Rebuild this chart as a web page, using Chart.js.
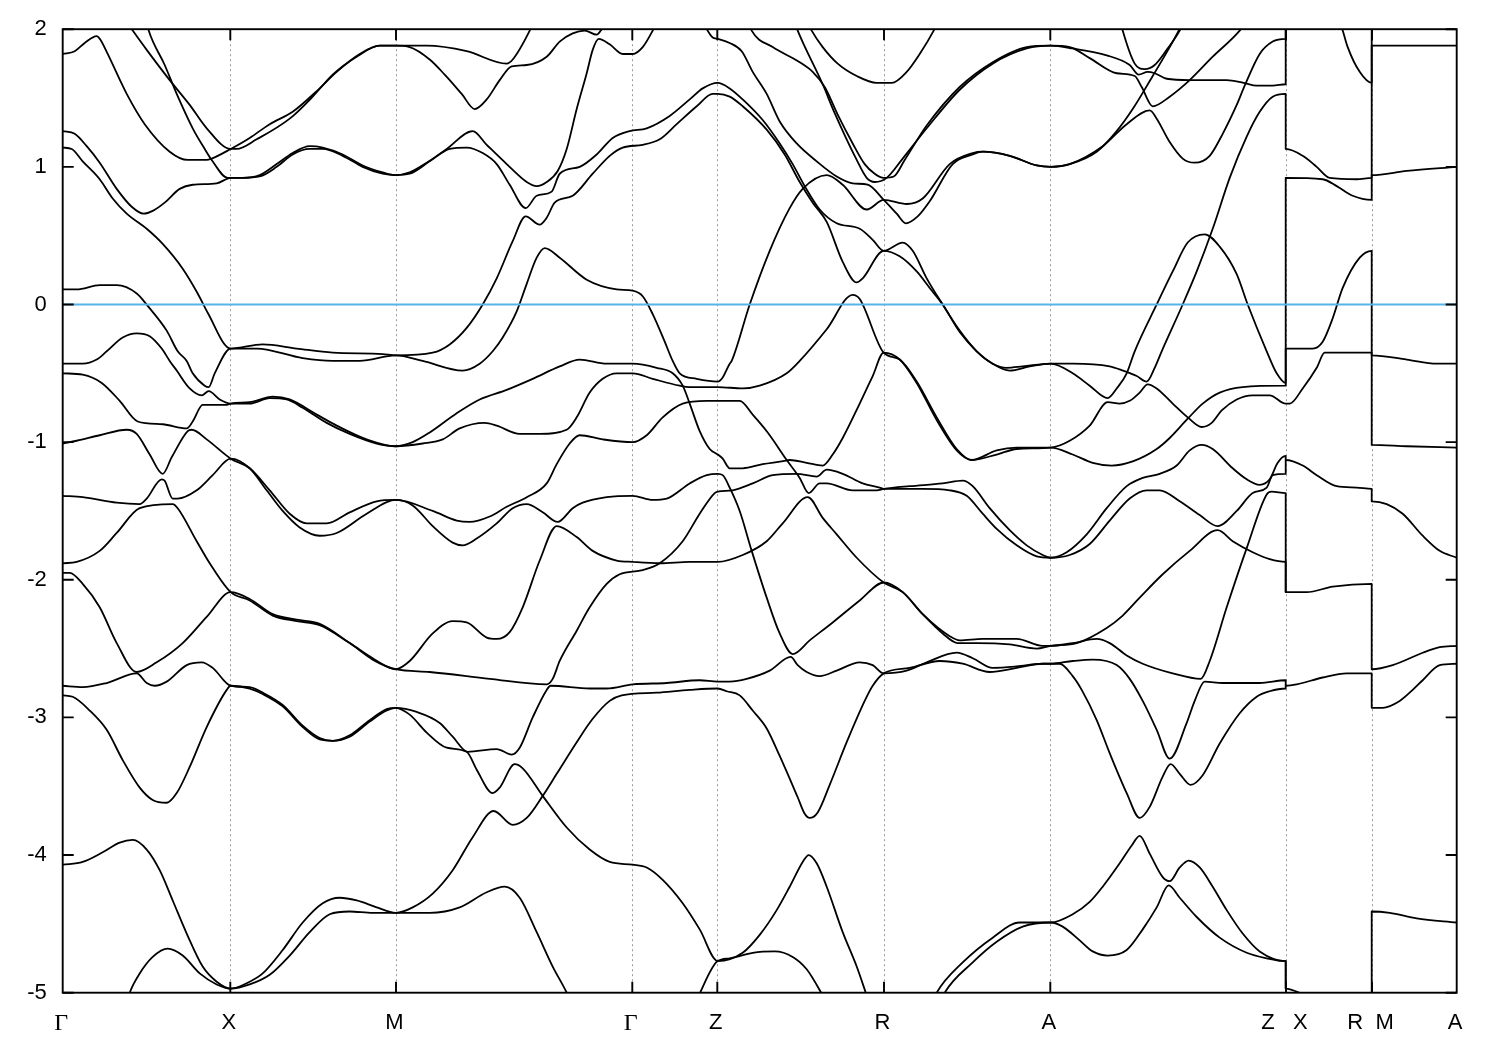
<!DOCTYPE html>
<html><head><meta charset="utf-8">
<style>html,body{margin:0;padding:0;background:#fff}canvas{display:block}</style>
<script src="https://cdn.jsdelivr.net/npm/chart.js@4"></script>
</head><body><canvas id="c" width="1500" height="1050"></canvas>
<script>
const kPoints=[0,167.6,333.3,569.6,654.6,821.3,987.6,1223.3,1309.3,1394];
const kLabels=['Γ','X','M','Γ','Z','R','A','Z   X','R  M','A'];
const energyTicks=[-5,-4,-3,-2,-1,0,1,2];
const zeroLevel=[[0,0],[1394,0]];
const band01=[[0,1.82],[12,1.84],[22,1.90],[34,1.95],[38,1.92],[45,1.82],[64,1.53],[82,1.31],[107,1.11],[125,1.05],[144,1.05],[149,1.06],[168,1.13],[187,1.21],[207,1.31],[230,1.40],[254,1.55],[274,1.69],[297,1.82],[317,1.88],[333,1.88],[364,1.88],[404,1.84],[444,1.75],[450,1.78],[467,1.99],[470,2.04]];
const band02=[[64,2.05],[70,1.99],[84,1.85],[107,1.63],[127,1.45],[144,1.28],[168,1.13],[174,1.13],[194,1.20],[227,1.35],[250,1.51],[270,1.67],[294,1.80],[317,1.88],[333,1.88],[347,1.87],[367,1.78],[382,1.67],[399,1.53],[412,1.42],[424,1.49],[437,1.63],[449,1.73],[464,1.74],[484,1.80],[497,1.91],[510,1.97],[522,1.99],[534,1.96],[539,2.0],[544,2.06]];
const band03=[[84,2.05],[86,1.99],[102,1.74],[114,1.53],[130,1.28],[142,1.13],[149,1.05],[165,.92],[168,.92],[180,.92],[197,.93],[214,1.00],[230,1.09],[247,1.13],[260,1.13],[280,1.08],[300,1.00],[320,.95],[333,.94],[347,.96],[364,1.03],[384,1.13],[410,1.26],[424,1.16],[444,1.02],[464,.89],[474,.86],[484,.89],[495,.97],[504,1.13],[514,1.42],[524,1.68],[530,1.85],[536,1.93],[547,1.89],[560,1.82],[570,1.82],[580,1.87],[590,1.99],[594,2.05]];
const band04=[[0,1.26],[12,1.24],[24,1.15],[37,1.03],[54,.84],[69,.71],[81,.66],[90,.68],[102,.74],[117,.84],[130,.87],[154,.88],[168,.92],[180,.92],[197,.94],[214,1.02],[230,1.10],[247,1.15],[260,1.14],[280,1.09],[300,1.01],[320,.96],[333,.94],[347,.95],[367,1.04],[387,1.13],[404,1.14],[420,1.10],[434,1.02],[447,.87],[463,.70],[474,.79],[489,.82],[497,.95],[517,1.00],[534,1.09],[550,1.21],[567,1.26],[584,1.28],[607,1.37],[627,1.49],[640,1.57],[655,1.61],[667,1.57],[680,1.49],[700,1.34],[717,1.17],[730,1.02],[742,.86],[757,.69],[774,.59],[797,.55],[810,.47],[821,.39],[840,.45],[850,.39],[864,.19],[880,0],[897,-.19],[914,-.34],[930,-.43],[944,-.46],[960,-.45],[988,-.43],[1010,-.43],[1047,-.45],[1060,-.48],[1074,-.52],[1084,-.56],[1092,-.46],[1099,-.34],[1120,0],[1134,.24],[1150,.55],[1167,.92],[1184,1.22],[1197,1.40],[1210,1.51],[1223,1.53],[1223,1.13],[1240,1.08],[1254,1.00],[1267,.92],[1294,.91],[1309,.92],[1309,1.88],[1394,1.88]];
const band05=[[0,1.14],[9,1.13],[20,1.04],[37,.91],[50,.77],[64,.66],[84,.55],[100,.44],[120,.26],[135,.08],[145,-.06],[168,-.32],[200,-.29],[234,-.32],[270,-.35],[320,-.36],[333,-.37],[370,-.35],[387,-.29],[404,-.17],[420,0],[434,.19],[450,.46],[463,.64],[477,.58],[484,.63],[492,.74],[510,.79],[530,.95],[547,1.08],[560,1.14],[580,1.16],[597,1.20],[614,1.31],[634,1.44],[650,1.53],[655,1.53],[667,1.51],[680,1.44],[704,1.27],[722,1.09],[737,.89],[750,.74],[764,.60],[780,.31],[794,.16],[800,.19],[821,.39],[837,.35],[854,.24],[867,.12],[880,0],[897,-.2],[914,-.34],[930,-.43],[947,-.48],[967,-.45],[988,-.43],[1010,-.50],[1027,-.59],[1045,-.68],[1054,-.61],[1064,-.50],[1072,-.34],[1094,0],[1110,.24],[1125,.45],[1142,.51],[1157,.42],[1174,.22],[1185,0],[1204,-.34],[1214,-.50],[1223,-.57],[1223,.92],[1260,.91],[1274,.86],[1290,.79],[1309,.76],[1309,.94],[1344,.97],[1394,1.00]];
const band06=[[0,.11],[14,.11],[37,.14],[54,.14],[74,.08],[85,-.01],[104,-.19],[115,-.34],[124,-.41],[130,-.50],[142,-.59],[146,-.60],[152,-.50],[168,-.32],[194,-.32],[240,-.39],[270,-.41],[297,-.41],[333,-.37],[360,-.41],[400,-.48],[417,-.43],[430,-.34],[440,-.24],[454,-.05],[464,.15],[474,.34],[482,.41],[497,.34],[524,.18],[554,.11],[570,.10],[580,.06],[590,-.07],[602,-.27],[610,-.41],[617,-.50],[634,-.54],[655,-.56],[660,-.53],[667,-.43],[669,-.41],[687,0],[707,.39],[727,.70],[740,.84],[764,.94],[780,.87],[804,.69],[821,.76],[844,.73],[860,.77],[887,1.02],[910,1.10],[920,1.11],[947,1.08],[974,1.01],[988,1.00],[1007,1.02],[1034,1.11],[1054,1.26],[1070,1.42],[1090,1.66],[1107,1.87],[1116,1.99],[1120,2.05]];
const band07=[[0,-.43],[20,-.43],[34,-.40],[44,-.34],[60,-.24],[74,-.21],[87,-.23],[99,-.32],[107,-.41],[114,-.48],[127,-.61],[139,-.66],[146,-.63],[157,-.69],[168,-.72],[187,-.72],[207,-.68],[224,-.69],[240,-.75],[264,-.86],[287,-.94],[314,-1.01],[333,-1.03],[350,-1.00],[367,-.93],[394,-.79],[417,-.69],[444,-.62],[470,-.54],[497,-.45],[517,-.40],[544,-.43],[570,-.43],[594,-.46],[610,-.50],[620,-.59],[627,-.72],[637,-.92],[647,-1.05],[655,-1.09],[660,-1.12],[667,-1.19],[680,-1.19],[700,-1.16],[719,-1.14],[727,-1.13],[744,-1.15],[760,-1.17],[770,-1.09],[780,-.97],[797,-.72],[810,-.52],[821,-.35],[837,-.40],[854,-.57],[874,-.84],[894,-1.06],[909,-1.13],[934,-1.09],[954,-1.05],[988,-1.04],[1007,-.99],[1027,-.88],[1045,-.71],[1057,-.72],[1067,-.70],[1077,-.64],[1085,-.58],[1094,-.61],[1110,-.72],[1125,-.82],[1139,-.89],[1149,-.86],[1159,-.77],[1174,-.69],[1190,-.66],[1207,-.66],[1223,-.72],[1227,-.72],[1240,-.61],[1254,-.46],[1262,-.35],[1309,-.35],[1309,-1.02],[1344,-1.03],[1394,-1.04]];
const band08=[[0,-.50],[20,-.51],[39,-.57],[57,-.70],[75,-.85],[100,-.87],[124,-.90],[130,-.85],[140,-.73],[164,-.73],[168,-.72],[187,-.71],[210,-.67],[227,-.69],[254,-.80],[274,-.88],[304,-.98],[333,-1.03],[360,-1.01],[380,-.98],[397,-.90],[422,-.86],[434,-.88],[457,-.94],[477,-.94],[504,-.91],[514,-.82],[527,-.64],[540,-.54],[554,-.50],[570,-.50],[590,-.54],[617,-.59],[627,-.60],[655,-.60],[680,-.61],[697,-.59],[724,-.50],[737,-.41],[764,-.18],[790,.07],[797,.04],[821,-.35],[837,-.40],[854,-.56],[874,-.82],[894,-1.05],[909,-1.13],[934,-1.06],[954,-1.04],[988,-1.04],[1010,-1.09],[1030,-1.15],[1049,-1.17],[1070,-1.14],[1094,-1.05],[1107,-.97],[1125,-.83],[1140,-.72],[1157,-.64],[1180,-.60],[1223,-.59],[1223,-.32],[1250,-.32],[1260,-.27],[1270,-.10],[1280,.12],[1297,.34],[1309,.39],[1309,-.37],[1344,-.40],[1374,-.43],[1394,-.43]];
const band09=[[0,-1.01],[14,-.99],[37,-.95],[64,-.91],[74,-.94],[87,-1.09],[100,-1.23],[109,-1.11],[125,-.92],[129,-.91],[144,-.98],[168,-1.12],[187,-1.19],[207,-1.35],[227,-1.52],[244,-1.59],[264,-1.59],[287,-1.51],[314,-1.43],[333,-1.42],[370,-1.50],[394,-1.57],[407,-1.58],[427,-1.54],[444,-1.47],[464,-1.40],[484,-1.30],[494,-1.16],[507,-1.01],[517,-.95],[540,-.98],[570,-1.00],[584,-.95],[600,-.82],[620,-.72],[644,-.70],[655,-.70],[677,-.70],[690,-.80],[705,-.93],[724,-1.13],[737,-1.26],[746,-1.37],[757,-1.30],[764,-1.30],[790,-1.35],[814,-1.35],[821,-1.34],[847,-1.32],[880,-1.30],[900,-1.28],[910,-1.32],[927,-1.48],[947,-1.64],[964,-1.75],[980,-1.82],[988,-1.84],[1004,-1.80],[1024,-1.67],[1044,-1.48],[1064,-1.32],[1080,-1.26],[1097,-1.23],[1114,-1.17],[1127,-1.06],[1139,-1.02],[1150,-1.05],[1170,-1.19],[1184,-1.27],[1197,-1.31],[1207,-1.27],[1215,-1.15],[1223,-1.10],[1223,-1.13],[1240,-1.17],[1254,-1.24],[1274,-1.32],[1294,-1.33],[1309,-1.34],[1309,-1.43],[1324,-1.45],[1340,-1.52],[1360,-1.68],[1377,-1.79],[1394,-1.84]];
const band10=[[0,-1.39],[20,-1.40],[54,-1.44],[77,-1.45],[84,-1.41],[99,-1.27],[102,-1.28],[110,-1.41],[115,-1.41],[134,-1.35],[150,-1.24],[168,-1.12],[187,-1.19],[204,-1.35],[220,-1.50],[237,-1.62],[257,-1.68],[274,-1.66],[304,-1.52],[333,-1.42],[350,-1.46],[370,-1.61],[390,-1.73],[400,-1.75],[414,-1.70],[434,-1.59],[450,-1.48],[464,-1.45],[480,-1.51],[495,-1.58],[510,-1.48],[520,-1.44],[544,-1.40],[570,-1.39],[590,-1.42],[604,-1.41],[627,-1.30],[644,-1.24],[655,-1.23],[660,-1.24],[667,-1.33],[677,-1.50],[689,-1.79],[704,-2.13],[717,-2.39],[730,-2.54],[747,-2.44],[770,-2.31],[797,-2.15],[821,-2.02],[840,-2.09],[860,-2.25],[880,-2.39],[895,-2.46],[914,-2.46],[947,-2.47],[974,-2.50],[988,-2.48],[1014,-2.46],[1044,-2.35],[1060,-2.26],[1077,-2.13],[1100,-1.96],[1127,-1.79],[1155,-1.64],[1170,-1.72],[1190,-1.80],[1207,-1.85],[1223,-1.87],[1223,-2.09]];
const band11=[[0,-1.88],[14,-1.87],[37,-1.79],[54,-1.66],[77,-1.48],[110,-1.45],[115,-1.48],[134,-1.72],[147,-1.88],[168,-2.09],[187,-2.15],[210,-2.26],[234,-2.30],[257,-2.33],[287,-2.46],[310,-2.57],[327,-2.64],[333,-2.65],[347,-2.59],[370,-2.39],[390,-2.30],[404,-2.31],[424,-2.42],[434,-2.43],[447,-2.38],[460,-2.20],[477,-1.86],[494,-1.61],[514,-1.69],[530,-1.79],[554,-1.86],[570,-1.87],[597,-1.88],[627,-1.87],[655,-1.87],[680,-1.82],[704,-1.72],[720,-1.59],[745,-1.40],[760,-1.55],[774,-1.67],[794,-1.84],[821,-2.02],[840,-2.09],[860,-2.25],[887,-2.41],[897,-2.44],[920,-2.43],[954,-2.43],[980,-2.48],[988,-2.48],[1010,-2.46],[1034,-2.43],[1047,-2.46],[1064,-2.55],[1080,-2.61],[1110,-2.68],[1138,-2.72],[1147,-2.59],[1164,-2.20],[1184,-1.77],[1204,-1.38],[1209,-1.36],[1223,-1.37],[1223,-2.09],[1244,-2.09],[1270,-2.05],[1309,-2.03],[1309,-2.65],[1330,-2.62],[1360,-2.53],[1377,-2.49],[1394,-2.48]];
const band12=[[0,-1.95],[7,-1.95],[20,-2.03],[37,-2.20],[54,-2.46],[74,-2.67],[94,-2.60],[120,-2.46],[144,-2.27],[168,-2.09],[187,-2.14],[210,-2.25],[234,-2.29],[257,-2.32],[287,-2.46],[310,-2.58],[333,-2.65],[367,-2.67],[427,-2.72],[484,-2.76],[490,-2.72],[497,-2.59],[514,-2.37],[527,-2.20],[544,-2.03],[557,-1.96],[580,-1.93],[597,-1.88],[620,-1.72],[637,-1.52],[652,-1.37],[655,-1.36],[670,-1.35],[690,-1.30],[710,-1.24],[734,-1.23],[754,-1.25],[764,-1.20],[780,-1.23],[800,-1.30],[817,-1.33],[821,-1.34],[860,-1.34],[887,-1.35],[904,-1.39],[920,-1.52],[934,-1.63],[954,-1.75],[974,-1.83],[988,-1.84],[1007,-1.82],[1027,-1.74],[1047,-1.57],[1067,-1.41],[1084,-1.35],[1097,-1.35],[1117,-1.43],[1137,-1.53],[1155,-1.61],[1174,-1.50],[1190,-1.37],[1204,-1.33],[1210,-1.24],[1223,-1.23],[1223,-1.13]];
const band13=[[0,-2.77],[20,-2.78],[44,-2.75],[74,-2.68],[84,-2.75],[92,-2.77],[104,-2.74],[124,-2.62],[139,-2.60],[150,-2.64],[168,-2.77],[187,-2.78],[200,-2.82],[220,-2.91],[240,-3.06],[257,-3.15],[270,-3.17],[287,-3.13],[307,-3.02],[324,-2.94],[333,-2.93],[354,-2.96],[377,-3.04],[390,-3.14],[405,-3.25],[434,-3.23],[449,-3.27],[457,-3.22],[470,-3.00],[484,-2.80],[488,-2.77],[527,-2.79],[544,-2.79],[570,-2.76],[604,-2.75],[637,-2.73],[655,-2.74],[667,-2.74],[684,-2.72],[707,-2.66],[728,-2.56],[735,-2.62],[744,-2.67],[757,-2.70],[774,-2.66],[797,-2.60],[810,-2.62],[821,-2.68],[844,-2.66],[864,-2.60],[894,-2.53],[910,-2.57],[930,-2.64],[954,-2.63],[980,-2.61],[988,-2.61],[1010,-2.59],[1030,-2.58],[1054,-2.62],[1067,-2.72],[1080,-2.88],[1094,-3.09],[1107,-3.30],[1124,-3.04],[1132,-2.88],[1142,-2.74],[1160,-2.75],[1197,-2.75],[1223,-2.73],[1223,-2.77],[1234,-2.76],[1260,-2.71],[1284,-2.68],[1309,-2.68],[1309,-2.93],[1320,-2.93],[1337,-2.88],[1350,-2.80],[1360,-2.73],[1377,-2.62],[1394,-2.61]];
const band14=[[0,-2.84],[10,-2.85],[27,-2.95],[44,-3.09],[60,-3.31],[77,-3.51],[90,-3.60],[104,-3.62],[114,-3.55],[127,-3.36],[144,-3.07],[164,-2.80],[168,-2.77],[187,-2.79],[200,-2.83],[220,-2.92],[240,-3.07],[257,-3.16],[270,-3.17],[287,-3.14],[307,-3.03],[324,-2.95],[333,-2.93],[347,-2.98],[364,-3.11],[384,-3.22],[404,-3.25],[414,-3.38],[430,-3.55],[437,-3.51],[452,-3.34],[460,-3.37],[480,-3.57],[504,-3.80],[527,-3.96],[547,-4.05],[570,-4.07],[584,-4.09],[600,-4.18],[620,-4.35],[637,-4.54],[655,-4.77],[680,-4.71],[697,-4.58],[714,-4.40],[727,-4.23],[740,-4.05],[746,-4.00],[754,-4.06],[764,-4.23],[780,-4.56],[794,-4.81],[804,-5.02]];
const band15=[[0,-4.07],[20,-4.05],[40,-3.98],[57,-3.91],[70,-3.89],[84,-3.96],[97,-4.11],[110,-4.33],[124,-4.57],[140,-4.81],[154,-4.92],[168,-4.97],[187,-4.92],[200,-4.86],[220,-4.69],[240,-4.49],[260,-4.35],[277,-4.31],[294,-4.33],[314,-4.38],[333,-4.42],[350,-4.38],[370,-4.28],[390,-4.11],[410,-3.87],[431,-3.68],[450,-3.78],[464,-3.73],[480,-3.57],[494,-3.41],[514,-3.18],[530,-3.01],[547,-2.88],[559,-2.84],[594,-2.82],[627,-2.80],[655,-2.79],[664,-2.81],[677,-2.84],[690,-2.95],[704,-3.08],[717,-3.28],[735,-3.58],[742,-3.70],[747,-3.73],[755,-3.69],[767,-3.49],[784,-3.18],[802,-2.88],[810,-2.77],[821,-2.68],[847,-2.64],[877,-2.59],[900,-2.61],[927,-2.67],[954,-2.64],[980,-2.61],[988,-2.61],[997,-2.61],[1010,-2.70],[1019,-2.80],[1034,-3.02],[1047,-3.26],[1064,-3.55],[1077,-3.73],[1087,-3.65],[1100,-3.43],[1108,-3.34],[1117,-3.41],[1128,-3.49],[1140,-3.42],[1157,-3.19],[1177,-2.97],[1194,-2.85],[1207,-2.81],[1223,-2.79],[1223,-2.77]];
const band16=[[65,-5.05],[67,-5.0],[77,-4.86],[90,-4.74],[105,-4.68],[120,-4.73],[137,-4.86],[154,-4.94],[168,-4.97],[187,-4.94],[207,-4.87],[227,-4.73],[247,-4.56],[267,-4.43],[287,-4.41],[310,-4.42],[333,-4.42],[367,-4.42],[397,-4.38],[424,-4.27],[442,-4.23],[457,-4.31],[474,-4.56],[490,-4.81],[504,-5.0],[507,-5.05]];
const band17=[[634,-5.05],[655,-4.77],[667,-4.75],[690,-4.71],[712,-4.70],[730,-4.74],[744,-4.83],[760,-5.02],[763,-5.06]];
const band18=[[640,2.05],[650,1.94],[655,1.93],[667,1.90],[679,1.84],[690,1.69],[704,1.53],[717,1.33],[734,1.17],[754,1.04],[774,.93],[790,.88],[805,.87],[821,.76],[834,.66],[843,.59],[855,.64],[867,.75],[890,1.02],[910,1.09],[920,1.11],[947,1.08],[974,1.01],[988,1.00],[1007,1.02],[1040,1.15],[1064,1.31],[1087,1.41],[1094,1.35],[1107,1.18],[1120,1.06],[1132,1.03],[1147,1.08],[1160,1.24],[1174,1.45],[1182,1.59],[1197,1.82],[1210,1.91],[1223,1.93],[1223,2.3],[1277,2.05],[1280,1.99],[1285,1.87],[1297,1.69],[1309,1.61],[1309,2.3]];
const band19=[[686,2.05],[689,1.99],[710,1.87],[737,1.76],[750,1.69],[762,1.58],[775,1.38],[790,1.17],[802,1.02],[812,.95],[821,.92],[831,.93],[842,1.05],[864,1.30],[897,1.58],[930,1.76],[964,1.87],[988,1.88],[1010,1.86],[1044,1.81],[1067,1.74],[1076,1.67],[1085,1.69],[1092,1.68],[1104,1.64],[1127,1.63],[1164,1.63],[1181,1.61],[1194,1.59],[1210,1.59],[1223,1.60],[1223,2.3]];
const band20=[[732,2.05],[735,1.99],[760,1.60],[772,1.39],[794,1.05],[804,.92],[812,.89],[824,.92],[840,1.06],[864,1.28],[897,1.56],[930,1.75],[964,1.86],[988,1.88],[1007,1.87],[1027,1.79],[1054,1.68],[1072,1.66],[1079,1.58],[1090,1.44],[1107,1.51],[1127,1.63],[1150,1.80],[1177,1.99],[1183,2.05]];
const band21=[[745,2.05],[749,1.99],[760,1.87],[775,1.75],[794,1.66],[814,1.61],[829,1.61],[844,1.69],[857,1.82],[871,1.99],[875,2.05]];
const band22=[[1058,2.05],[1060,1.99],[1072,1.75],[1082,1.71],[1092,1.74],[1104,1.85],[1117,1.99],[1121,2.05]];
const band23=[[871,-5.05],[874,-5.0],[900,-4.78],[930,-4.60],[957,-4.49],[988,-4.49],[1010,-4.43],[1027,-4.34],[1040,-4.23],[1057,-4.06],[1069,-3.93],[1077,-3.86],[1087,-3.99],[1100,-4.16],[1107,-4.19],[1117,-4.09],[1126,-4.04],[1137,-4.09],[1150,-4.23],[1164,-4.40],[1180,-4.57],[1197,-4.70],[1223,-4.77],[1223,-4.97],[1244,-5.02],[1309,-5.1],[1309,-4.41],[1327,-4.42],[1354,-4.46],[1394,-4.49]];
const band24=[[879,-5.05],[882,-5.0],[910,-4.78],[934,-4.63],[960,-4.52],[988,-4.49],[1000,-4.52],[1017,-4.62],[1030,-4.70],[1045,-4.73],[1064,-4.69],[1080,-4.54],[1094,-4.38],[1106,-4.22],[1117,-4.31],[1134,-4.45],[1157,-4.60],[1184,-4.71],[1204,-4.75],[1223,-4.77],[1223,-4.97]];
const bands=[band01,band02,band03,band04,band05,band06,band07,band08,band09,band10,band11,band12,band13,band14,band15,band16,band17,band18,band19,band20,band21,band22,band23,band24];

const toXY=a=>a.map(p=>({x:p[0],y:p[1]}));
const datasets=bands.map((b,i)=>({label:'band '+(i+1),data:toXY(b),borderColor:'#000',borderWidth:1.8,
  pointRadius:0,fill:false,cubicInterpolationMode:'monotone',borderJoinStyle:'round'}));
datasets.push({label:'E_F',data:toXY(zeroLevel),borderColor:'#56b4e9',borderWidth:1.8,pointRadius:0,fill:false,order:-1});

const frame={id:'frame',afterDatasetsDraw(chart){
  const {ctx,chartArea:a,scales:{x,y}}=chart;
  ctx.save();ctx.strokeStyle='#000';ctx.lineWidth=1.9;
  ctx.strokeRect(a.left,a.top,a.right-a.left,a.bottom-a.top);
  ctx.beginPath();
  energyTicks.forEach(v=>{const p=y.getPixelForValue(v);
    ctx.moveTo(a.left,p);ctx.lineTo(a.left+11,p);ctx.moveTo(a.right,p);ctx.lineTo(a.right-11,p);});
  kPoints.slice(1,-1).forEach(v=>{const p=x.getPixelForValue(v);
    ctx.moveTo(p,a.bottom);ctx.lineTo(p,a.bottom-11);ctx.moveTo(p,a.top);ctx.lineTo(p,a.top+11);});
  ctx.stroke();ctx.restore();
}};

new Chart(document.getElementById('c'),{type:'line',data:{datasets},plugins:[frame],options:{
  responsive:false,animation:false,devicePixelRatio:1,
  layout:{padding:{top:27.5,right:43.3,left:0,bottom:0}},
  plugins:{legend:{display:false},tooltip:{enabled:false},title:{display:false}},
  scales:{
    x:{type:'linear',min:0,max:1394,
      afterBuildTicks(s){s.ticks=kPoints.map(value=>({value}));},
      afterFit(s){s.height=57.3;},
      grid:{color:'#9a9a9a',lineWidth:1,drawTicks:false},
      border:{display:false,dash:[2,3]},
      ticks:{autoSkip:false,maxRotation:0,minRotation:0,padding:17,labelOffset:-1.5,color:'#000',
        callback:(v,i)=>kLabels[i],
        font:c=>({family:kLabels[c.index]==='Γ'?'"Liberation Serif"':'"Liberation Sans"',size:kLabels[c.index]==='Γ'?24:22})}},
    y:{type:'linear',min:-5,max:2,
      afterBuildTicks(s){s.ticks=energyTicks.map(value=>({value}));},
      afterFit(s){s.width=62.7;},
      grid:{display:false,drawTicks:false},border:{display:false},
      ticks:{padding:16,color:'#000',font:{family:'"Liberation Sans"',size:22}}}
  }}});
</script></body></html>
